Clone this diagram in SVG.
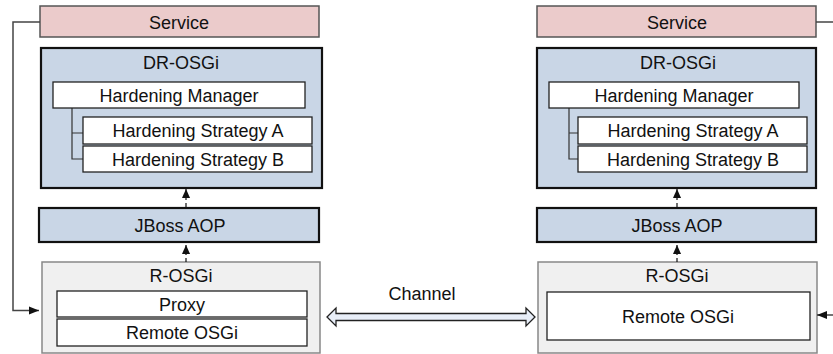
<svg xmlns="http://www.w3.org/2000/svg" width="833" height="354" viewBox="0 0 833 354">
<defs>
<style>
text{font-family:"Liberation Sans",Arial,sans-serif;font-size:18px;fill:#111;text-anchor:middle}
.svc{fill:#ebcbcb;stroke:#555;stroke-width:1.5}
.dr{fill:#c9d6e6;stroke:#111;stroke-width:2.2}
.ro{fill:#f0f0f0;stroke:#888;stroke-width:1.5}
.in{fill:#fff;stroke:#222;stroke-width:1.3}
.tree{fill:none;stroke:#333;stroke-width:1.2}
.dash{fill:none;stroke:#111;stroke-width:1.2;stroke-dasharray:4,3}
.wire{fill:none;stroke:#444;stroke-width:1.5}
</style>
<marker id="ah" viewBox="0 0 10 10" refX="10" refY="5" markerWidth="9" markerHeight="9" markerUnits="userSpaceOnUse" orient="auto">
<path d="M0,0.5 L10,5 L0,9.5 z" fill="#111"/>
</marker>
<marker id="ah2" viewBox="0 0 10 10" refX="10" refY="5" markerWidth="10" markerHeight="10" markerUnits="userSpaceOnUse" orient="auto">
<path d="M0,1 L10,5 L0,9 z" fill="#111"/>
</marker>
</defs>

<g id="left-service"><rect class="svc" x="40" y="6" width="279" height="31"/><text x="179" y="28.5">Service</text></g>
<g id="left-drosgi">
<rect class="dr" x="41" y="48" width="281" height="140"/><text x="181" y="69">DR-OSGi</text>
<path class="tree" d="M72,108 V159 H83 M72,133 H83"/>
<g id="left-hm"><rect class="in" x="53" y="82" width="252" height="26"/><text x="179" y="101.5">Hardening Manager</text></g>
<g id="left-hsa"><rect class="in" x="83" y="117" width="229" height="27"/><text x="198" y="137">Hardening Strategy A</text></g>
<g id="left-hsb"><rect class="in" x="83" y="146" width="229" height="26"/><text x="198" y="165.5">Hardening Strategy B</text></g>
</g>
<g id="left-jboss"><rect class="dr" x="39" y="208" width="280" height="34"/><text x="180" y="231.5">JBoss AOP</text></g>
<g id="left-rosgi">
<rect class="ro" x="42" y="262" width="278" height="91"/><text x="181" y="281.5">R-OSGi</text>
<g id="left-proxy"><rect class="in" x="57" y="291" width="250" height="26"/><text x="182" y="310.5">Proxy</text></g>
<g id="left-remote"><rect class="in" x="57" y="319" width="250" height="27"/><text x="182" y="339">Remote OSGi</text></g>
</g>

<g id="right-service"><rect class="svc" x="537" y="6" width="279" height="31"/><text x="677" y="28.5">Service</text></g>
<g id="right-drosgi">
<rect class="dr" x="537" y="48" width="279" height="140"/><text x="678" y="69">DR-OSGi</text>
<path class="tree" d="M569,108 V159 H578 M569,133 H578"/>
<g id="right-hm"><rect class="in" x="549" y="82" width="250" height="26"/><text x="674" y="101.5">Hardening Manager</text></g>
<g id="right-hsa"><rect class="in" x="578" y="117" width="229" height="27"/><text x="693" y="137">Hardening Strategy A</text></g>
<g id="right-hsb"><rect class="in" x="578" y="146" width="229" height="26"/><text x="693" y="165.5">Hardening Strategy B</text></g>
</g>
<g id="right-jboss"><rect class="dr" x="537" y="208" width="279" height="34"/><text x="677" y="231.5">JBoss AOP</text></g>
<g id="right-rosgi">
<rect class="ro" x="538" y="262" width="279" height="91"/><text x="677" y="281.5">R-OSGi</text>
<g id="right-remote"><rect class="in" x="547" y="292" width="263" height="48"/><text x="678" y="322.5">Remote OSGi</text></g>
</g>

<g id="connectors">
<path class="dash" d="M186,207 V189" marker-end="url(#ah)"/>
<path class="dash" d="M186,262 V245" marker-end="url(#ah)"/>
<path class="dash" d="M677,207 V189" marker-end="url(#ah)"/>
<path class="dash" d="M677,262 V245" marker-end="url(#ah)"/>
<path class="wire" d="M40,22 H13 V310.5 H39" marker-end="url(#ah2)"/>
<path class="wire" d="M816,22 H833"/>
<path class="wire" d="M833,315 H817" marker-end="url(#ah2)"/>
<path id="channel" d="M327,317 L336,308 V313.5 H526 V308 L535,317 L526,326 V320.5 H336 V326 Z" fill="#e8eef8" stroke="#222" stroke-width="1.3" stroke-linejoin="miter"/>
<text x="422" y="300">Channel</text>
</g>
</svg>
